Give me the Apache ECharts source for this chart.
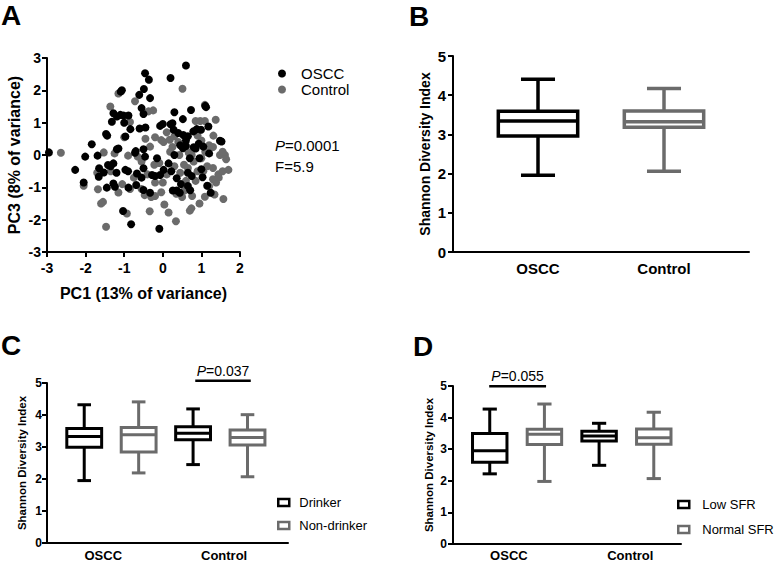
<!DOCTYPE html>
<html><head><meta charset="utf-8">
<script src="https://cdn.jsdelivr.net/npm/echarts@6/dist/echarts.min.js"></script>
<style>html,body{margin:0;padding:0;background:#fff}#c{width:777px;height:563px}</style>
</head><body><div id="c"></div>
<script>
// ---------- DATA ----------
const pcaXTicks = [-3, -2, -1, 0, 1, 2];
const pcaYTicks = [-3, -2, -1, 0, 1, 2, 3];
const osccPoints = [[-2.95,0.08],[0.6,2.77],[-0.46,2.53],[-0.36,2.33],[0.2,2.38],[-0.49,2.04],[-1.06,2.0],[-1.09,1.96],[-0.61,1.86],[-0.33,1.76],[-0.55,1.45],[-0.5,1.27],[-1.28,1.29],[-1.19,1.19],[-1.1,1.24],[-1.02,1.22],[-0.89,1.22],[-1.32,1.03],[-1.0,1.0],[-0.84,0.8],[-0.97,0.57],[-0.6,0.82],[-0.45,0.85],[-1.47,0.65],[-1.44,0.6],[-0.07,0.9],[0.0,0.96],[0.3,1.32],[0.52,1.11],[0.73,1.39],[1.1,1.52],[1.12,1.48],[0.28,0.78],[0.4,0.68],[0.53,0.62],[0.65,0.58],[0.99,0.78],[1.18,0.88],[0.79,0.73],[0.88,0.8],[1.05,0.26],[0.8,0.24],[0.6,0.28],[0.52,0.21],[1.48,0.44],[1.52,0.42],[0.2,0.95],[0.25,0.98],[-1.84,0.33],[-2.01,-0.05],[-1.69,-0.02],[-2.27,-0.46],[-2.05,-0.85],[-1.65,-0.41],[-1.66,-0.67],[-1.53,-0.54],[-1.42,-0.31],[-1.28,-0.26],[-1.19,0.18],[-1.15,0.2],[-0.72,0.07],[-0.5,0.18],[-0.46,-0.05],[-0.5,-0.41],[-0.67,-0.57],[-0.97,-0.46],[-1.28,-0.88],[-1.24,-0.98],[-1.45,-1.01],[-0.89,-1.01],[-0.69,-0.93],[-0.5,-1.08],[-0.33,-1.17],[-0.28,-0.62],[-0.2,-0.65],[-0.07,-0.62],[0.02,-0.46],[0.15,-0.26],[0.22,-0.5],[0.36,-0.72],[0.26,-1.1],[0.36,-1.1],[0.44,-1.17],[0.47,-0.9],[0.65,-0.96],[0.71,-1.09],[1.0,-0.44],[1.03,-0.69],[1.24,-1.17],[1.15,-0.95],[-1.03,-1.73],[-0.82,-2.14],[-0.09,-2.28],[0.85,0.2],[0.95,-0.1],[0.7,-0.1],[0.45,0.3],[0.6,0.45],[1.2,0.05],[-0.15,-0.1],[-0.7,0.12],[-0.55,-0.7],[-0.9,-0.5],[-1.2,-0.55],[-1.35,-0.35],[0.75,-0.65],[0.3,0.0],[0.93,0.35],[0.65,-0.55]];
const controlPoints = [[-2.64,0.07],[-1.15,1.9],[-1.36,1.5],[-0.72,1.66],[-0.37,1.35],[-0.25,1.38],[0.51,2.05],[-0.85,1.02],[-1.53,0.08],[-2.05,-0.95],[-1.68,-1.06],[-1.55,-1.45],[-1.47,-2.22],[-1.15,-1.16],[-0.93,-1.81],[-0.9,-0.02],[-0.65,-0.05],[-0.47,-1.24],[-0.2,-1.27],[-0.34,-1.74],[0.04,-1.53],[0.15,-1.78],[0.34,-2.05],[0.56,-1.1],[0.76,-1.27],[0.74,-1.65],[0.7,-1.72],[1.09,-1.29],[1.34,-1.22],[1.57,-1.36],[-0.04,-1.15],[-0.04,0.46],[0.02,0.4],[0.18,0.47],[0.3,0.58],[0.1,0.7],[-0.33,0.26],[-0.22,-0.3],[-0.09,-0.25],[0.19,0.1],[0.43,0.0],[0.67,0.08],[0.97,1.05],[1.09,1.05],[1.37,1.09],[1.09,1.55],[1.31,0.6],[1.48,0.0],[1.61,0.0],[1.64,-0.13],[1.7,-0.46],[1.44,-0.6],[1.3,-0.75],[1.38,-0.85],[1.2,-0.97],[1.45,-0.7],[1.55,-0.5],[1.0,-0.1],[1.1,0.1],[1.2,0.3],[1.3,0.25],[0.8,-0.2],[0.9,-0.5],[1.05,-0.5],[0.85,-0.8],[0.6,-0.8],[0.45,-0.55],[0.55,-0.3],[0.75,0.0],[1.0,0.45],[0.9,0.6],[0.85,1.05],[0.3,-0.35],[0.1,-0.6],[-0.2,-0.85],[-0.4,-0.6],[-0.55,-0.2],[-0.85,-1.05],[-1.05,-0.9],[-1.35,-0.5],[-1.7,-0.55],[-1.25,0.05],[-1.0,0.55],[-0.45,0.5],[-0.2,0.55],[0.4,0.4],[0.65,-0.4],[1.15,-0.35],[0.25,0.25],[-0.75,-0.7],[-0.55,-1.05],[0.0,-0.85],[0.5,-1.3],[1.3,-0.4],[1.55,0.1],[-1.6,-1.5],[-0.3,-1.3],[0.95,-1.5],[0.35,-1.2]];
const pcaStats = ['0.0001', '5.9']; // P, F

const groupNames = ['OSCC', 'Control'];
// box stats: [min, Q1, median, Q3, max]
const shannonOSCC = [1.96, 2.96, 3.34, 3.59, 4.41];
const shannonControl = [2.06, 3.18, 3.32, 3.60, 4.17];
const drinkerBoxes = [[1.95, 2.99, 3.33, 3.58, 4.32], [2.45, 3.23, 3.43, 3.63, 4.19]];
const nonDrinkerBoxes = [[2.19, 2.84, 3.38, 3.61, 4.41], [2.07, 3.06, 3.30, 3.53, 4.01]];
const lowSFRBoxes = [[2.22, 2.59, 2.95, 3.50, 4.27], [2.49, 3.26, 3.42, 3.57, 3.82]];
const normalSFRBoxes = [[1.98, 3.15, 3.47, 3.63, 4.43], [2.07, 3.16, 3.36, 3.64, 4.17]];
const shannonTicks = [0, 1, 2, 3, 4, 5];
const pDrinking = { group: 1, p: '0.037' };
const pSFR = { group: 0, p: '0.055' };

// ---------- STYLE / LAYOUT ----------
const FF = '"Liberation Sans", Arial, sans-serif';
const BLACK = '#000000', GRAY = '#6b6b6b';

function boxRender(bw, cw, color, lw) {
  return function (params, api) {
    const x = api.value(0);
    const v = [1, 2, 3, 4, 5].map(i => api.value(i));
    const c = (xx, yy) => api.coord([xx, yy]);
    const st = () => ({ stroke: color, lineWidth: lw, fill: null });
    const line = (p1, p2) => ({ type: 'line', shape: { x1: p1[0], y1: p1[1], x2: p2[0], y2: p2[1] }, style: st() });
    const tl = c(x - bw / 2, v[3]), br = c(x + bw / 2, v[1]);
    return { type: 'group', children: [
      line(c(x, v[3]), c(x, v[4])),
      line(c(x, v[1]), c(x, v[0])),
      line(c(x - cw / 2, v[4]), c(x + cw / 2, v[4])),
      line(c(x - cw / 2, v[0]), c(x + cw / 2, v[0])),
      { type: 'rect', shape: { x: tl[0], y: tl[1], width: br[0] - tl[0], height: br[1] - tl[1] }, style: { stroke: color, lineWidth: lw, fill: '#fff' } },
      line(c(x - bw / 2, v[2]), c(x + bw / 2, v[2]))
    ] };
  };
}
function pRender(label) {
  return function (params, api) {
    const a = api.coord([api.value(0), api.value(2)]);
    const b = api.coord([api.value(1), api.value(2)]);
    return { type: 'group', children: [
      { type: 'line', shape: { x1: a[0], y1: a[1], x2: b[0], y2: b[1] }, style: { stroke: BLACK, lineWidth: 2.5 } },
      { type: 'text', x: (a[0] + b[0]) / 2, y: a[1] - 3, style: {
        text: '{i|P}=' + label, fontSize: 14, fontFamily: FF, fill: BLACK, align: 'center', verticalAlign: 'bottom',
        rich: { i: { fontStyle: 'italic', fontSize: 14, fontFamily: FF, fill: BLACK } } } }
    ] };
  };
}
function boxData(stats, x) { return [[x].concat(stats)]; }

function valueYAxis(gi, ticks, name, nameSize, nameGap, labSize, labMargin) {
  return {
    type: 'value', gridIndex: gi, min: ticks[0], max: ticks[ticks.length - 1], interval: 1,
    name: name, nameLocation: 'middle', nameGap: nameGap, nameRotate: 90,
    nameTextStyle: { fontFamily: FF, fontWeight: 'bold', fontSize: nameSize, color: BLACK },
    axisLine: { show: true, onZero: false, lineStyle: { color: BLACK, width: 2 } },
    axisTick: { show: true, length: 5, lineStyle: { color: BLACK, width: 2 } },
    splitLine: { show: false },
    axisLabel: { fontFamily: FF, fontWeight: 'bold', fontSize: labSize, color: BLACK, margin: labMargin }
  };
}
function groupXAxis(gi, min, max, positions, labSize, labMargin) {
  return {
    type: 'value', gridIndex: gi, min: min, max: max,
    axisLine: { show: true, onZero: false, lineStyle: { color: BLACK, width: 2 } },
    axisTick: { show: false }, splitLine: { show: false },
    axisLabel: { customValues: positions, fontFamily: FF, fontWeight: 'bold', fontSize: labSize, color: BLACK, margin: labMargin,
      formatter: v => { let best = 0; positions.forEach((p, i) => { if (Math.abs(p - v) < Math.abs(positions[best] - v)) best = i; }); return groupNames[best]; } }
  };
}

// slot positions for panels C/D: group g, subgroup s -> 2g + s + 1
const slot = (g, s) => 2 * g + s + 1;
const cdLabelPos = [1.35, 3.57];
const letterStyle = { fontSize: 28, fontWeight: 'bold', color: BLACK, fontFamily: FF };

const option = {
  animation: false,
  backgroundColor: '#fff',
  textStyle: { fontFamily: FF },
  title: [
    { text: 'A', left: 1, top: 1, padding: 0, textStyle: letterStyle },
    { text: 'B', left: 409, top: 2, padding: 0, textStyle: letterStyle },
    { text: 'C', left: 1, top: 331, padding: 0, textStyle: letterStyle },
    { text: 'D', left: 413, top: 332, padding: 0, textStyle: letterStyle }
  ],
  legend: [
    { orient: 'vertical', left: 273, top: 61, icon: 'circle', itemWidth: 8, itemHeight: 8, itemGap: 1, selectedMode: false,
      data: [{ name: 'OSCC', itemStyle: { color: BLACK } }, { name: 'Control', itemStyle: { color: GRAY } }],
      textStyle: { fontFamily: FF, fontSize: 15, color: BLACK, padding: [0, 0, 0, 10] } },
    { orient: 'vertical', left: 272, top: 491, icon: 'rect', itemWidth: 11, itemHeight: 7, itemGap: 10, selectedMode: false,
      data: [{ name: 'Drinker', itemStyle: { color: '#fff', borderColor: BLACK, borderWidth: 2.5 } },
             { name: 'Non-drinker', itemStyle: { color: '#fff', borderColor: GRAY, borderWidth: 2.5 } }],
      textStyle: { fontFamily: FF, fontSize: 13, color: BLACK, padding: [0, 0, 0, 5] } },
    { orient: 'vertical', left: 677, top: 498, padding: 0, icon: 'rect', itemWidth: 11, itemHeight: 7, itemGap: 12, selectedMode: false,
      data: [{ name: 'Low SFR', itemStyle: { color: '#fff', borderColor: BLACK, borderWidth: 2.5 } },
             { name: 'Normal SFR', itemStyle: { color: '#fff', borderColor: GRAY, borderWidth: 2.5 } }],
      textStyle: { fontFamily: FF, fontSize: 13, color: BLACK, padding: [0, 0, 0, 8] } }
  ],
  graphic: [
    { type: 'text', left: 275, top: 138, style: { text: '{i|P}=' + pcaStats[0], fontSize: 15, fontFamily: FF, fill: BLACK,
      rich: { i: { fontStyle: 'italic', fontSize: 15, fontFamily: FF, fill: BLACK } } } },
    { type: 'text', left: 275, top: 159, style: { text: 'F=' + pcaStats[1], fontSize: 15, fontFamily: FF, fill: BLACK } }
  ],
  grid: [
    { left: 47, top: 58, width: 193, height: 194 },
    { left: 453, top: 56, width: 296, height: 196 },
    { left: 47, top: 383, width: 241, height: 160 },
    { left: 453, top: 386, width: 228, height: 158 }
  ],
  xAxis: [
    { type: 'value', gridIndex: 0, min: pcaXTicks[0], max: pcaXTicks[pcaXTicks.length - 1], interval: 1,
      name: 'PC1 (13% of variance)', nameLocation: 'middle', nameGap: 33,
      nameTextStyle: { fontFamily: FF, fontWeight: 'bold', fontSize: 16, color: BLACK },
      axisLine: { show: true, onZero: false, lineStyle: { color: BLACK, width: 2 } },
      axisTick: { show: true, length: 5, lineStyle: { color: BLACK, width: 2 } },
      splitLine: { show: false },
      axisLabel: { fontFamily: FF, fontWeight: 'bold', fontSize: 14, color: BLACK, margin: 9 } },
    groupXAxis(1, 1 - 85 / 126, 2 + 85 / 126, [1, 2], 15, 9),
    groupXAxis(2, 0.316, 4.744, cdLabelPos, 13, 6),
    groupXAxis(3, 0.328, 4.498, cdLabelPos, 13, 5)
  ],
  yAxis: [
    valueYAxis(0, pcaYTicks, 'PC3 (8% of variance)', 16, 25, 14, 6),
    valueYAxis(1, shannonTicks, 'Shannon Diversity Index', 14, 21, 15, 7),
    valueYAxis(2, shannonTicks, 'Shannon Diversity Index', 11.5, 19, 12, 5),
    valueYAxis(3, shannonTicks, 'Shannon Diversity Index', 11.5, 18, 12, 6)
  ],
  series: [
    { type: 'scatter', name: 'Control', xAxisIndex: 0, yAxisIndex: 0, symbolSize: 8, itemStyle: { color: GRAY, opacity: 1 }, data: controlPoints },
    { type: 'scatter', name: 'OSCC', xAxisIndex: 0, yAxisIndex: 0, symbolSize: 8, itemStyle: { color: BLACK, opacity: 1 }, data: osccPoints },

    { type: 'custom', name: 'B-OSCC', xAxisIndex: 1, yAxisIndex: 1, clip: false, encode: { x: 0, y: [1, 2, 3, 4, 5] },
      renderItem: boxRender(0.63, 0.27, BLACK, 3.5), data: boxData(shannonOSCC, 1) },
    { type: 'custom', name: 'B-Control', xAxisIndex: 1, yAxisIndex: 1, clip: false, encode: { x: 0, y: [1, 2, 3, 4, 5] },
      renderItem: boxRender(0.63, 0.27, GRAY, 3.5), data: boxData(shannonControl, 2) },

    { type: 'custom', name: 'Drinker', xAxisIndex: 2, yAxisIndex: 2, clip: false, encode: { x: 0, y: [1, 2, 3, 4, 5] },
      itemStyle: { color: BLACK }, renderItem: boxRender(0.64, 0.25, BLACK, 3),
      data: drinkerBoxes.map((b, g) => [slot(g, 0)].concat(b)) },
    { type: 'custom', name: 'Non-drinker', xAxisIndex: 2, yAxisIndex: 2, clip: false, encode: { x: 0, y: [1, 2, 3, 4, 5] },
      itemStyle: { color: GRAY }, renderItem: boxRender(0.64, 0.25, GRAY, 3),
      data: nonDrinkerBoxes.map((b, g) => [slot(g, 1)].concat(b)) },
    { type: 'custom', name: 'pC', xAxisIndex: 2, yAxisIndex: 2, clip: false, encode: { x: [0, 1], y: 2 },
      renderItem: pRender(pDrinking.p), data: [[slot(pDrinking.group, 0) + 0.04, slot(pDrinking.group, 1) + 0.06, 5.07]] },

    { type: 'custom', name: 'Low SFR', xAxisIndex: 3, yAxisIndex: 3, clip: false, encode: { x: 0, y: [1, 2, 3, 4, 5] },
      itemStyle: { color: BLACK }, renderItem: boxRender(0.63, 0.26, BLACK, 3),
      data: lowSFRBoxes.map((b, g) => [slot(g, 0)].concat(b)) },
    { type: 'custom', name: 'Normal SFR', xAxisIndex: 3, yAxisIndex: 3, clip: false, encode: { x: 0, y: [1, 2, 3, 4, 5] },
      itemStyle: { color: GRAY }, renderItem: boxRender(0.63, 0.26, GRAY, 3),
      data: normalSFRBoxes.map((b, g) => [slot(g, 1)].concat(b)) },
    { type: 'custom', name: 'pD', xAxisIndex: 3, yAxisIndex: 3, clip: false, encode: { x: [0, 1], y: 2 },
      renderItem: pRender(pSFR.p), data: [[slot(pSFR.group, 0) - 0.01, slot(pSFR.group, 1) + 0.03, 4.99]] }
  ]
};
const chart = echarts.init(document.getElementById('c'), null, { renderer: 'svg' });
chart.setOption(option);
</script></body></html>
